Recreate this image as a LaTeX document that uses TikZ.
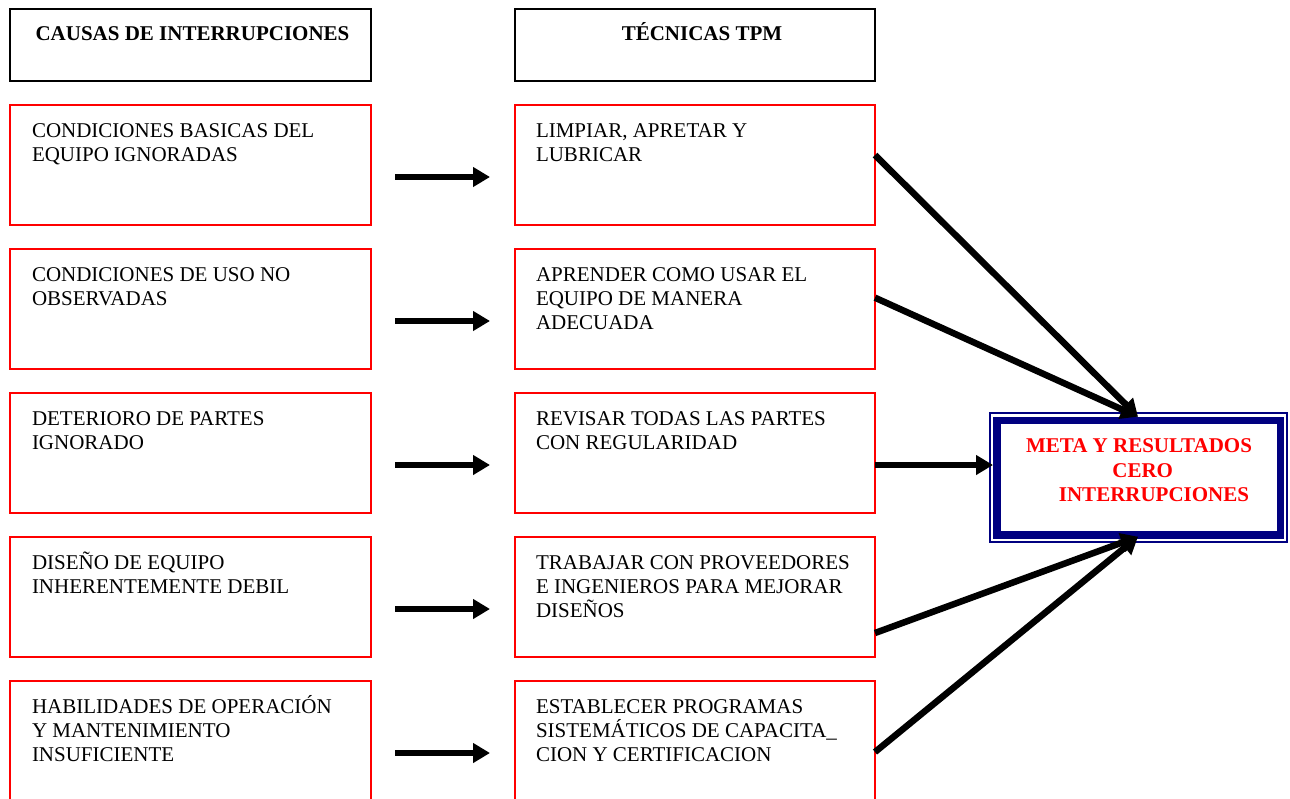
\documentclass[tikz,border=0pt]{standalone}
\usepackage{fontspec}
\setmainfont{Liberation Serif}
\usetikzlibrary{arrows.meta}
\definecolor{navy}{RGB}{0,0,128}
\newcommand{\boxlines}[1]{\parbox[t]{340pt}{\raggedright #1}}
\begin{document}
\begin{tikzpicture}[x=1pt,y=-1pt,
  every node/.style={outer sep=0pt},
  headbox/.style={draw=black,line width=2pt,minimum width=361pt,minimum height=72pt,anchor=north west,inner sep=0pt},
  headtext/.style={anchor=base,inner sep=0pt,font=\fontsize{21}{24}\selectfont\bfseries},
  redbox/.style={draw=red,line width=1.6pt,minimum width=361pt,minimum height=120pt,anchor=north west,inner sep=0pt},
  boxtext/.style={anchor=base west,inner sep=0pt,font=\fontsize{21}{24}\selectfont},
  goaltext/.style={anchor=base,inner sep=0pt,text=red,font=\fontsize{21}{24}\selectfont\bfseries},
  conn/.style={line width=6.5pt,-{Triangle[length=17pt,width=19pt]}}]
\useasboundingbox (0,0) rectangle (1290,798);

% column headers
\node[headbox] (h1) at (10,9) {};
\node[headbox,minimum width=360pt] (h2) at (515,9) {};
\node[headtext] (h1t) at ([shift={(2,31)}]h1.north) {CAUSAS DE INTERRUPCIONES};
\node[headtext] (h2t) at ([shift={(7,31)}]h2.north) {TÉCNICAS TPM};

% causes
\node[redbox] (c1) at (10,105) {};
\node[redbox] (c2) at (10,249) {};
\node[redbox] (c3) at (10,393) {};
\node[redbox] (c4) at (10,537) {};
\node[redbox] (c5) at (10,681) {};
\node[boxtext] (c1t) at ([shift={(22,32)}]c1.north west) {\boxlines{CONDICIONES BASICAS DEL\\EQUIPO IGNORADAS}};
\node[boxtext] (c2t) at ([shift={(22,32)}]c2.north west) {\boxlines{CONDICIONES DE USO NO\\OBSERVADAS}};
\node[boxtext] (c3t) at ([shift={(22,32)}]c3.north west) {\boxlines{DETERIORO DE PARTES\\IGNORADO}};
\node[boxtext] (c4t) at ([shift={(22,32)}]c4.north west) {\boxlines{DISEÑO DE EQUIPO\\INHERENTEMENTE DEBIL}};
\node[boxtext] (c5t) at ([shift={(22,32)}]c5.north west) {\boxlines{HABILIDADES DE OPERACIÓN\\Y MANTENIMIENTO\\INSUFICIENTE}};

% techniques
\node[redbox,minimum width=360pt] (t1) at (515,105) {};
\node[redbox,minimum width=360pt] (t2) at (515,249) {};
\node[redbox,minimum width=360pt] (t3) at (515,393) {};
\node[redbox,minimum width=360pt] (t4) at (515,537) {};
\node[redbox,minimum width=360pt] (t5) at (515,681) {};
\node[boxtext] (t1t) at ([shift={(21,32)}]t1.north west) {\boxlines{LIMPIAR, APRETAR Y\\LUBRICAR}};
\node[boxtext] (t2t) at ([shift={(21,32)}]t2.north west) {\boxlines{APRENDER COMO USAR EL\\EQUIPO DE MANERA\\ADECUADA}};
\node[boxtext] (t3t) at ([shift={(21,32)}]t3.north west) {\boxlines{REVISAR TODAS LAS PARTES\\CON REGULARIDAD}};
\node[boxtext] (t4t) at ([shift={(21,32)}]t4.north west) {\boxlines{TRABAJAR CON PROVEEDORES\\E INGENIEROS PARA MEJORAR\\DISEÑOS}};
\node[boxtext] (t5t) at ([shift={(21,32)}]t5.north west) {\boxlines{ESTABLECER PROGRAMAS\\SISTEMÁTICOS DE CAPACITA\_\\CION Y CERTIFICACION}};

% goal box with double navy frame
\node[draw=navy,line width=2pt,minimum width=297.3pt,minimum height=129.8pt,anchor=north west,inner sep=0pt] (g) at (990,412.5) {};
\node[draw=navy,line width=7.6pt,minimum width=283.5pt,minimum height=114.9pt,anchor=north west,inner sep=0pt] (gi) at (997,420.3) {};
\node[goaltext] (g1) at (1139,452.7) {META Y RESULTADOS};
\node[goaltext] (g2) at (1142.7,477) {CERO};
\node[goaltext] (g3) at (1154,501.7) {INTERRUPCIONES};

% arrow end points
\foreach \i in {1,...,5} {
  \coordinate (a\i s) at ([shift={(24,72)}]c\i.north east);
  \coordinate (a\i e) at ([shift={(-25,72)}]t\i.north west);
}
\coordinate (d1) at ([shift={(0,50)}]t1.north east);
\coordinate (d2) at ([shift={(0,48.7)}]t2.north east);
\coordinate (d3) at ([shift={(0,72)}]t3.north east);
\coordinate (d4) at ([shift={(0,96)}]t4.north east);
\coordinate (d5) at ([shift={(0,71)}]t5.north east);
\coordinate (gtop) at ([shift={(148,4.2)}]g.north west);
\coordinate (gmid) at ([shift={(3,52.5)}]g.north west);
\coordinate (gbot) at ([shift={(148,124.2)}]g.north west);

% connectors
\foreach \i in {1,...,5} { \draw[conn] (a\i s) -- (a\i e); }
\draw[conn] (d1) -- (gtop);
\draw[conn] (d2) -- (gtop);
\draw[conn] (d3) -- (gmid);
\draw[conn] (d4) -- (gbot);
\draw[conn] (d5) -- (gbot);
\end{tikzpicture}
\end{document}
